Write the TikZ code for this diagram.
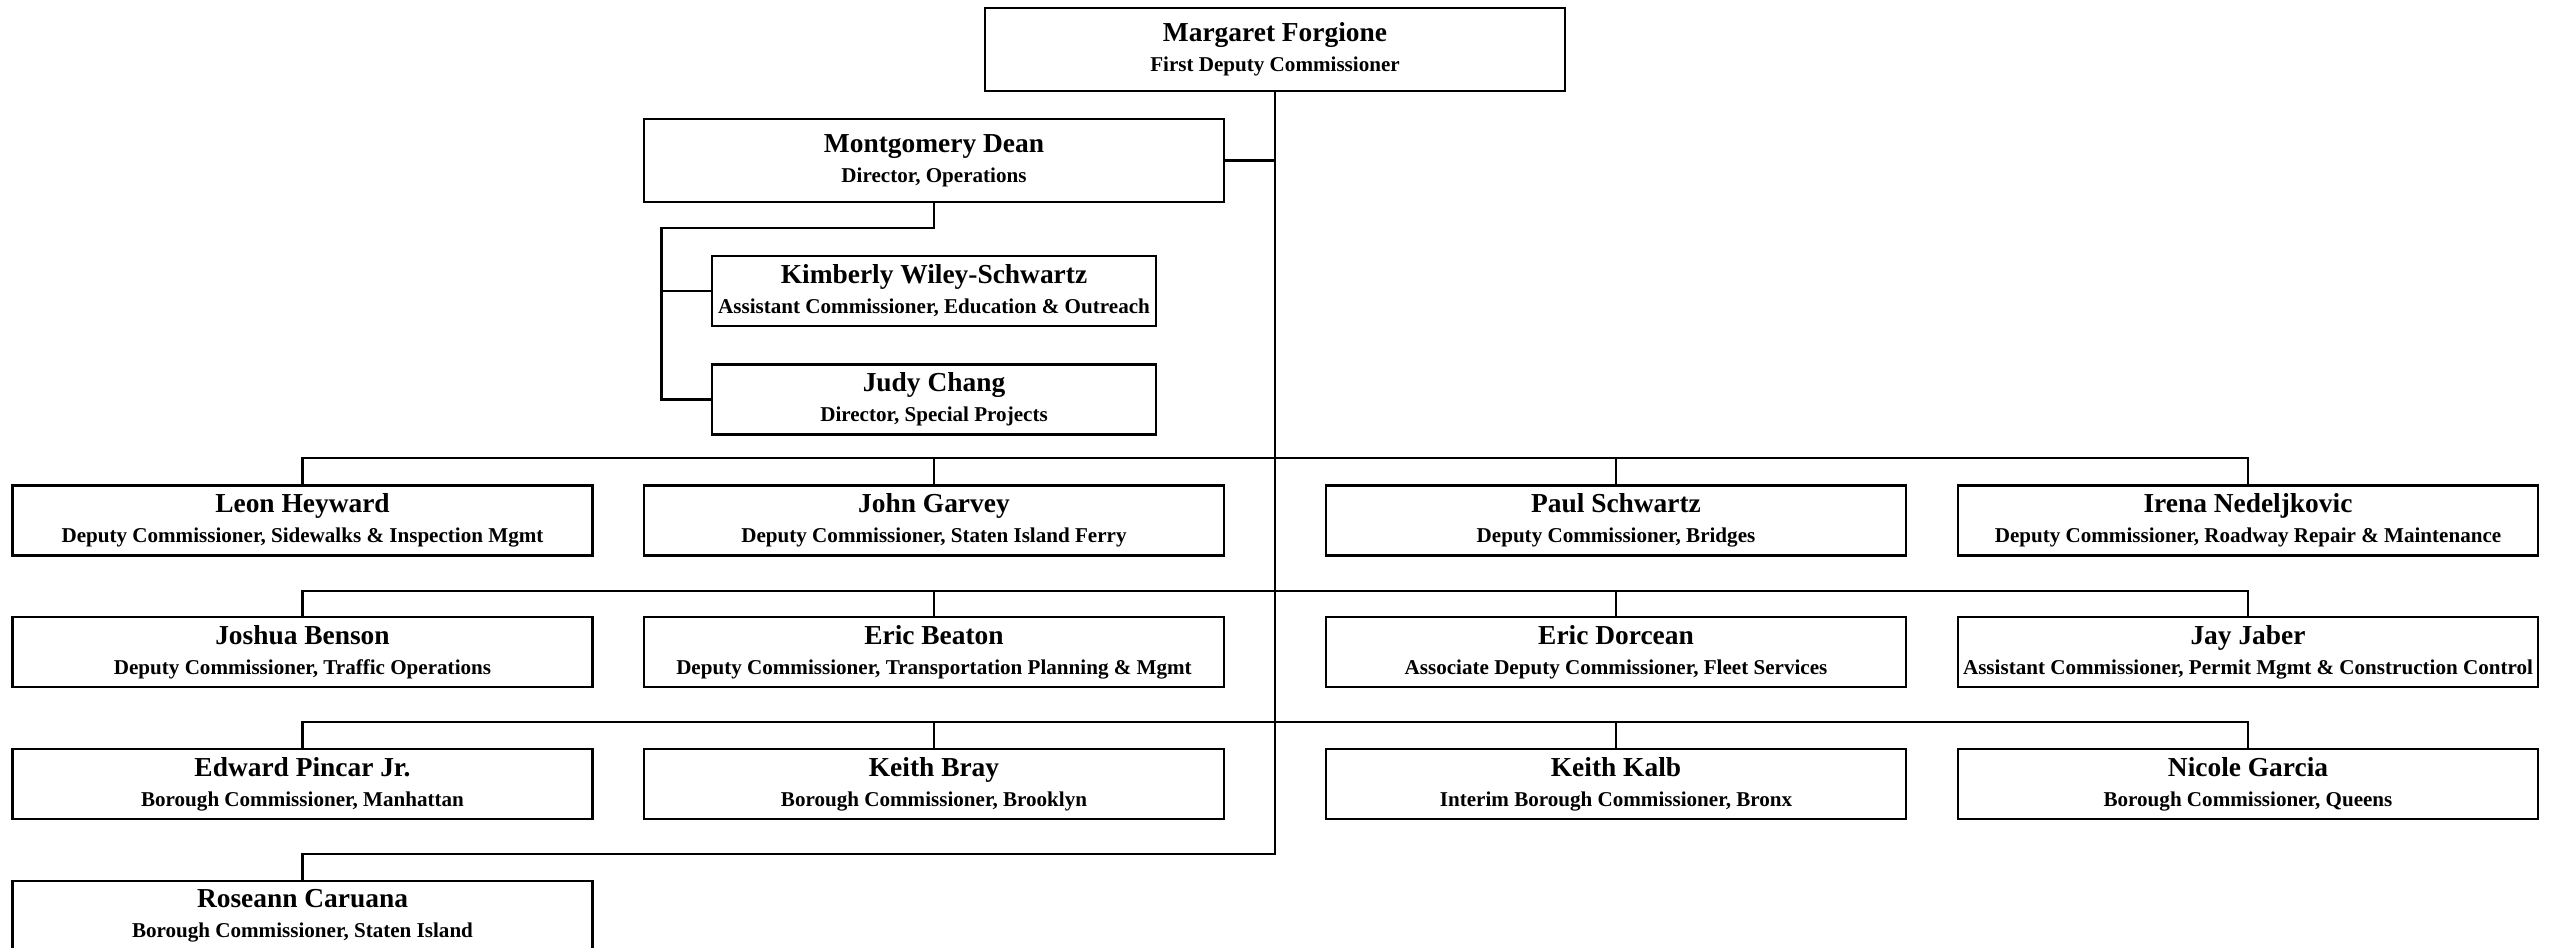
\documentclass[tikz,border=0pt]{standalone}
\usepackage{fontspec}
\setmainfont{Liberation Serif}
\usepackage{tikz}
\usetikzlibrary{positioning}
\newcommand{\staff}[2]{{\fontsize{7.8pt}{8.5pt}\selectfont #1}\\#2}

\begin{document}
\begin{tikzpicture}[
        person/.style={draw, line width=0.75pt, minimum width=5.8cm, minimum height=0.7cm,
                       inner sep=0pt, align=center, font=\bfseries\fontsize{6pt}{8.5pt}\selectfont},
        tallperson/.style={person, minimum height=0.83cm},
        smallperson/.style={person, minimum width=4.44cm},
        link/.style={-, line width=0.65pt}
      ]
      \useasboundingbox (0,0) rectangle (25.51,9.48);

      % First deputy and the operations office
      \node[tallperson] (forgione) at (12.75,8.985) {\staff{Margaret Forgione}{First Deputy Commissioner}};
      \node[tallperson] (dean) at (9.34,7.875) {\staff{Montgomery Dean}{Director, Operations}};
      \node[smallperson] (wiley) at (9.34,6.57) {\staff{Kimberly Wiley-Schwartz}{Assistant Commissioner, Education \& Outreach}};
      \node[smallperson, below=0.36cm of wiley] (chang) {\staff{Judy Chang}{Director, Special Projects}};

      % Row 1
      \node[person] (heyward) at (3.025,4.275) {\staff{Leon Heyward}{Deputy Commissioner, Sidewalks \& Inspection Mgmt}};
      \node[person] (garvey) at (9.34,4.275) {\staff{John Garvey}{Deputy Commissioner, Staten Island Ferry}};
      \node[person] (schwartz) at (16.16,4.275) {\staff{Paul Schwartz}{Deputy Commissioner, Bridges}};
      \node[person] (nedeljkovic) at (22.48,4.275) {\staff{Irena Nedeljkovic}{Deputy Commissioner, Roadway Repair \& Maintenance}};

      % Row 2
      \node[person] (benson) at (3.025,2.96) {\staff{Joshua Benson}{Deputy Commissioner, Traffic Operations}};
      \node[person] (beaton) at (9.34,2.96) {\staff{Eric Beaton}{Deputy Commissioner, Transportation Planning \& Mgmt}};
      \node[person] (dorcean) at (16.16,2.96) {\staff{Eric Dorcean}{Associate Deputy Commissioner, Fleet Services}};
      \node[person] (jaber) at (22.48,2.96) {\staff{Jay Jaber}{Assistant Commissioner, Permit Mgmt \& Construction Control}};

      % Row 3 (boroughs)
      \node[person] (pincar) at (3.025,1.64) {\staff{Edward Pincar Jr.}{Borough Commissioner, Manhattan}};
      \node[person] (bray) at (9.34,1.64) {\staff{Keith Bray}{Borough Commissioner, Brooklyn}};
      \node[person] (kalb) at (16.16,1.64) {\staff{Keith Kalb}{Interim Borough Commissioner, Bronx}};
      \node[person] (garcia) at (22.48,1.64) {\staff{Nicole Garcia}{Borough Commissioner, Queens}};

      % Row 4
      \node[person] (caruana) at (3.025,0.32) {\staff{Roseann Caruana}{Borough Commissioner, Staten Island}};

      % Bus lines
      \coordinate (bus1) at (12.75,4.90);
      \coordinate (bus2) at (12.75,3.57);
      \coordinate (bus3) at (12.75,2.26);
      \coordinate (bus4) at (12.75,0.94);
      \coordinate (deanbend) at (6.615,7.20);

      % Main trunk
      \draw[link] (forgione.south) -- (forgione.south |- bus4) -| (caruana.north);
      \draw[link] (dean.east) -- (dean.east -| forgione.south);

      % Operations office
      \draw[link] (dean.south) |- (deanbend) |- (chang.west);
      \draw[link] (wiley.west) -- (wiley.west -| deanbend);

      % Rows
      \foreach \a/\b/\c/\d/\bus in {heyward/garvey/schwartz/nedeljkovic/bus1,
                                     benson/beaton/dorcean/jaber/bus2,
                                     pincar/bray/kalb/garcia/bus3} {
        \draw[link] (\a.north) |- (\bus) -| (\d.north);
        \draw[link] (\b.north) -- (\b.north |- \bus);
        \draw[link] (\c.north) -- (\c.north |- \bus);
      }

    \end{tikzpicture}
\end{document}
